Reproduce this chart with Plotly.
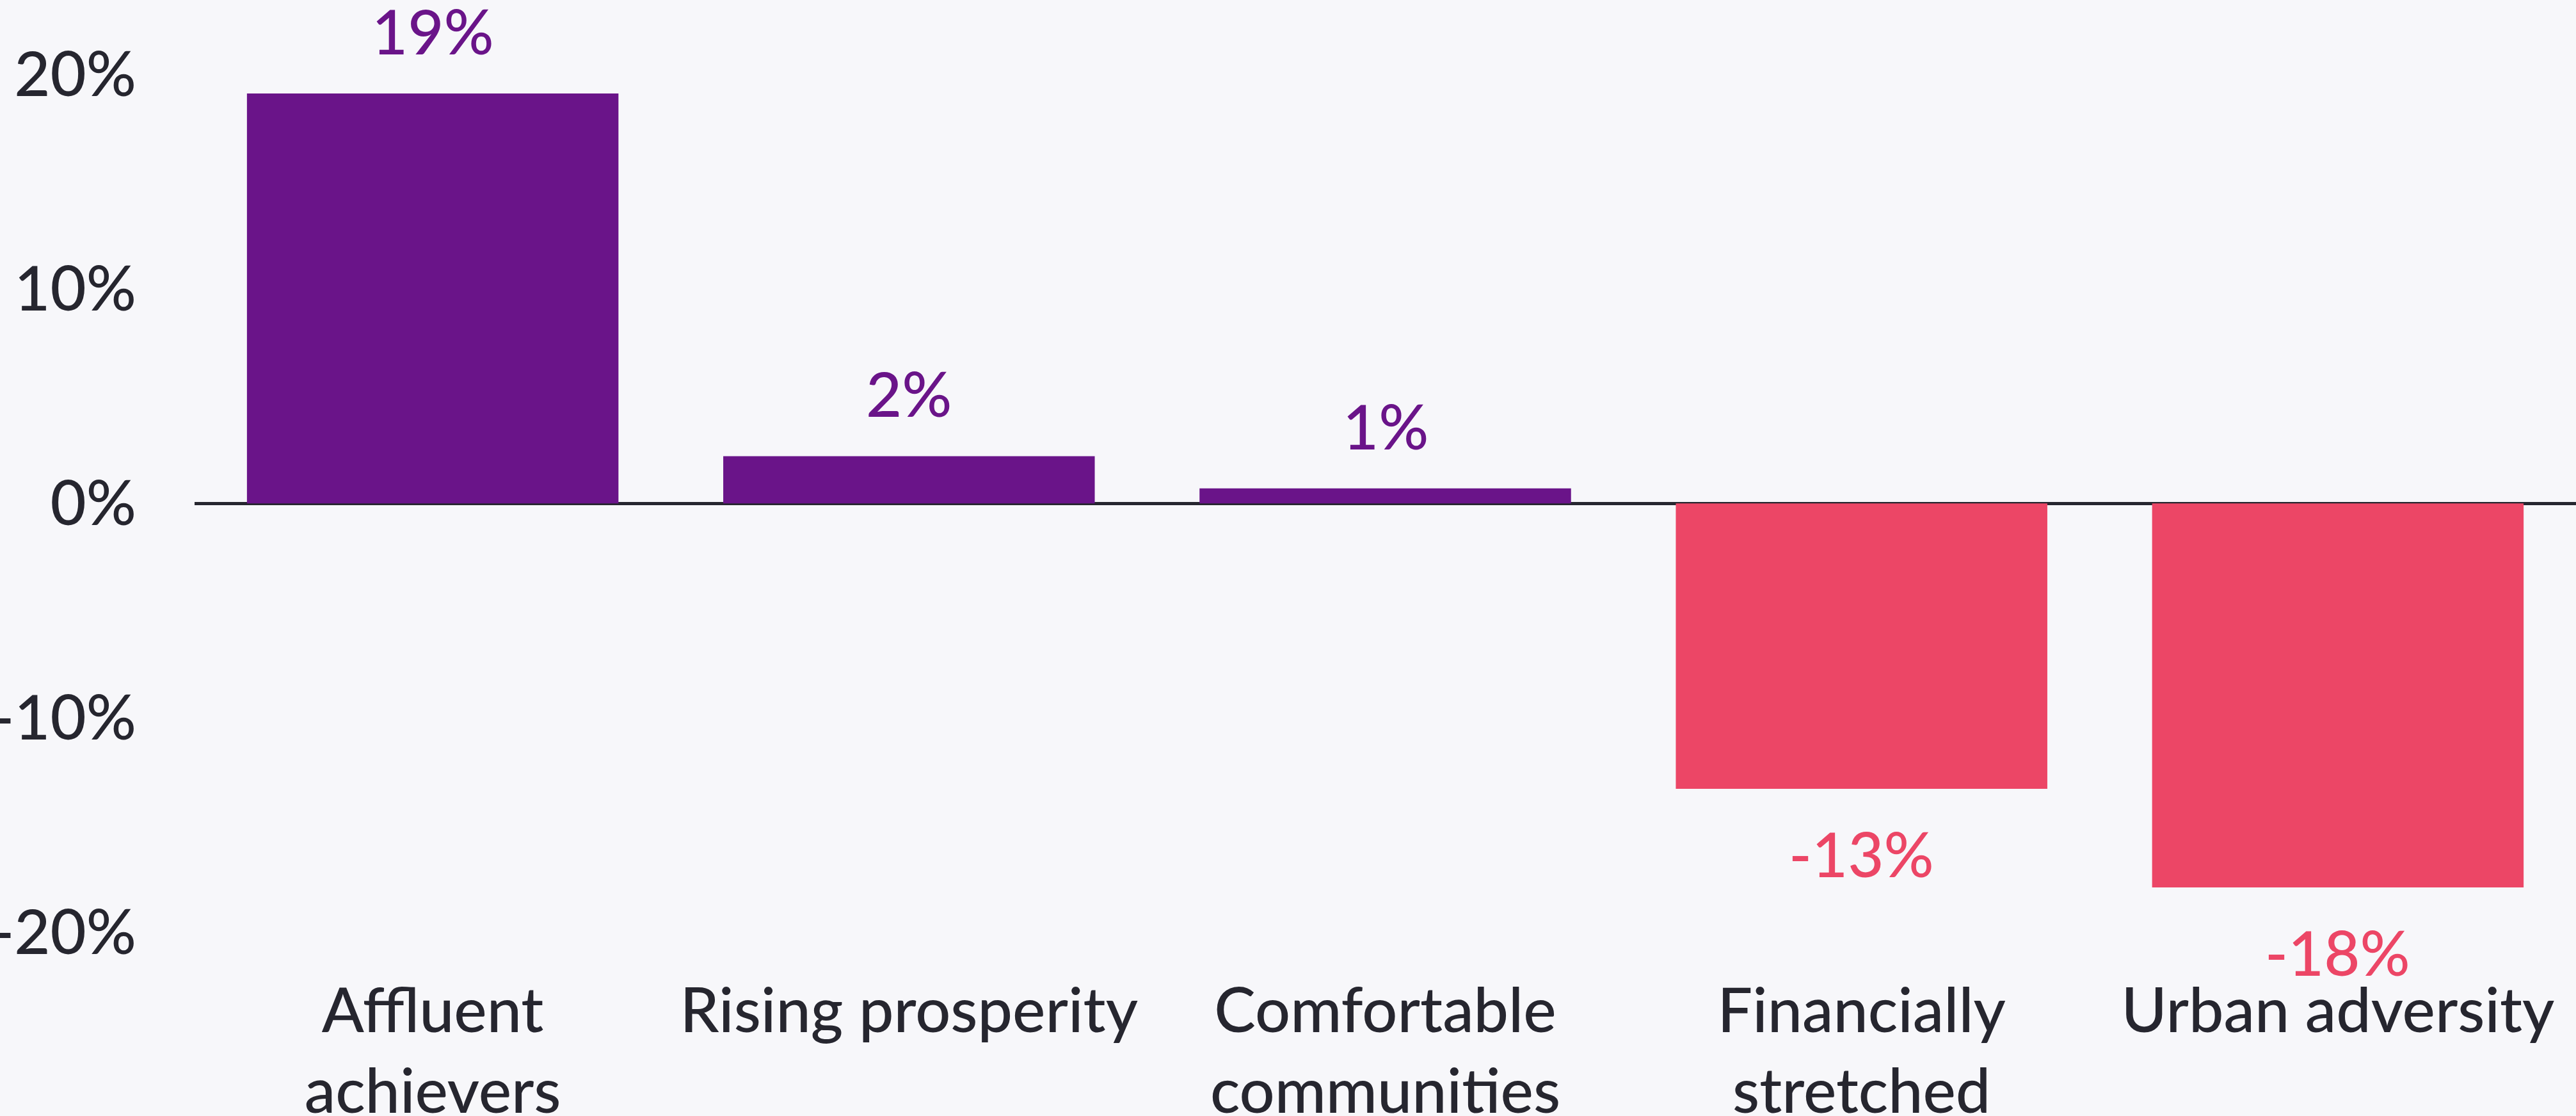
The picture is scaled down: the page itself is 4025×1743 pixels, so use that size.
import plotly.graph_objects as go

# Data
segments = [
    "Affluent<br>achievers",
    "Rising prosperity",
    "Comfortable<br>communities",
    "Financially<br>stretched",
    "Urban adversity",
]
change_pct = [19.1, 2.2, 0.7, -13.3, -17.9]
y_ticks = [-20, -10, 0, 10, 20]
y_tick_labels = ["-20%", "-10%", "0%", "10%", "20%"]

PURPLE = "#6A1489"
RED = "#EC4666"
INK = "#26262F"
BG = "#F7F7FA"
FONT = "Lato, Noto Sans, sans-serif"
SIZE = 97
WEIGHT = 500

colors = [PURPLE if v >= 0 else RED for v in change_pct]

fig = go.Figure()
fig.add_trace(
    go.Bar(
        x=segments,
        y=change_pct,
        marker=dict(color=colors, line=dict(width=0)),
        hoverinfo="skip",
    )
)

# Value labels, offset away from the end of each bar
for seg, v, c in zip(segments, change_pct, colors):
    fig.add_annotation(
        x=seg,
        y=v,
        text=f"{v:.0f}%",
        showarrow=False,
        yanchor="bottom" if v >= 0 else "top",
        yshift=38 if v >= 0 else -40,
        font=dict(family=FONT, size=SIZE, color=c, weight=WEIGHT),
    )

fig.update_layout(
    width=4025,
    height=1743,
    paper_bgcolor=BG,
    plot_bgcolor=BG,
    margin=dict(l=304, r=0, t=0, b=253, autoexpand=False),
    bargap=0.22,
    showlegend=False,
    font=dict(family=FONT, size=SIZE, color=INK, weight=WEIGHT),
)
fig.update_xaxes(
    showgrid=False,
    showline=False,
    ticks="",
    automargin=False,
    tickfont=dict(family=FONT, size=SIZE, color=INK, weight=WEIGHT),
    ticklabelstandoff=24,
)
fig.update_yaxes(
    range=[-21.0, 23.46],
    showgrid=False,
    showline=False,
    automargin=False,
    zeroline=True,
    zerolinecolor=INK,
    zerolinewidth=5,
    layer="above traces",
    tickvals=y_ticks,
    ticktext=y_tick_labels,
    ticks="",
    ticklabelstandoff=90,
    tickfont=dict(family=FONT, size=SIZE, color=INK, weight=WEIGHT),
)

# drop the default page margin so the chart sits flush with the window
fig.write_html(
    "out.html",
    config={"displayModeBar": False},
    post_script=f"document.body.style.margin='0';document.body.style.background='{BG}';",
)
